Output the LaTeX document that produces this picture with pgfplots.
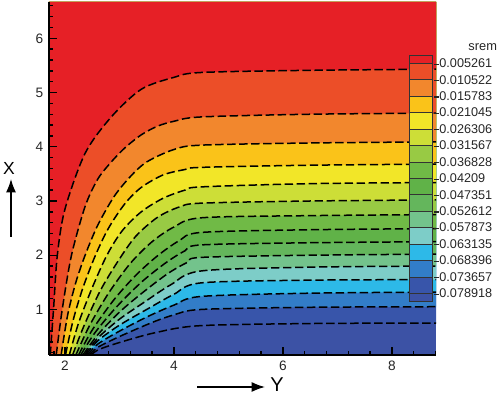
\documentclass[border=0pt]{standalone}
\usepackage{pgfplots}
\pgfplotsset{compat=1.18}
\usepackage{pgfplotstable}
\usepackage{fontspec}
\setmainfont{Liberation Sans}
\usetikzlibrary{arrows.meta}

\definecolor{cb0}{RGB}{230,32,38}
\definecolor{cb1}{RGB}{236,78,40}
\definecolor{cb2}{RGB}{242,135,45}
\definecolor{cb3}{RGB}{250,195,25}
\definecolor{cb4}{RGB}{242,230,40}
\definecolor{cb5}{RGB}{205,222,55}
\definecolor{cb6}{RGB}{152,202,68}
\definecolor{cb7}{RGB}{112,186,70}
\definecolor{cb8}{RGB}{96,178,72}
\definecolor{cb9}{RGB}{100,182,92}
\definecolor{cb10}{RGB}{115,195,140}
\definecolor{cb11}{RGB}{125,205,200}
\definecolor{cb12}{RGB}{45,185,232}
\definecolor{cb13}{RGB}{50,125,200}
\definecolor{cb14}{RGB}{56,85,170}
\definecolor{cb15}{RGB}{60,82,165}

\pgfplotstableread{
a b
1.73 0.16
1.79 1.0
1.86 2.0
2.0 2.85
2.37 3.88
2.85 4.55
3.4 5.06
4.0 5.28
4.5 5.37
6.5 5.41
8.81 5.43
}\LA
\pgfplotstableread{
a b
1.84 0.16
1.95 1.0
2.12 2.0
2.37 2.9
2.6 3.4
2.85 3.72
3.1 3.98
3.4 4.22
3.7 4.38
4.0 4.47
4.5 4.55
6.5 4.60
8.81 4.62
}\LB
\pgfplotstableread{
a b
1.93 0.16
2.05 0.9
2.2 1.5
2.37 2.0
2.6 2.55
2.9 3.08
3.2 3.45
3.5 3.72
4.0 3.95
4.5 4.03
6.5 4.07
8.81 4.09
}\LC
\pgfplotstableread{
a b
2.01 0.16
2.15 0.8
2.33 1.4
2.56 2.0
2.8 2.5
3.1 2.95
3.4 3.25
3.8 3.48
4.2 3.58
4.5 3.62
6.5 3.66
8.81 3.68
}\LD
\pgfplotstableread{
a b
2.08 0.16
2.25 0.75
2.5 1.4
2.77 2.0
3.05 2.45
3.4 2.8
3.8 3.05
4.2 3.2
4.5 3.26
6.5 3.32
8.81 3.34
}\LE
\pgfplotstableread{
a b
2.14 0.16
2.35 0.7
2.65 1.35
2.98 1.9
3.3 2.35
3.7 2.7
4.1 2.89
4.5 2.96
6.5 3.0
8.81 3.02
}\LF
\pgfplotstableread{
a b
2.2 0.16
2.45 0.7
2.8 1.3
3.2 1.85
3.6 2.25
4.0 2.52
4.5 2.69
6.5 2.73
8.81 2.75
}\LG
\pgfplotstableread{
a b
2.25 0.16
2.5 0.62
2.9 1.18
3.3 1.63
3.7 1.99
4.1 2.27
4.5 2.42
6.5 2.47
8.81 2.49
}\LH
\pgfplotstableread{
a b
2.29 0.16
2.55 0.57
2.95 1.05
3.4 1.5
3.85 1.86
4.2 2.08
4.5 2.19
6.5 2.23
8.81 2.25
}\LI
\pgfplotstableread{
a b
2.33 0.16
2.6 0.53
3.0 0.95
3.45 1.33
3.9 1.67
4.25 1.87
4.5 1.96
6.5 2.0
8.81 2.02
}\LJ
\pgfplotstableread{
a b
2.36 0.16
2.6 0.47
3.0 0.82
3.45 1.13
3.95 1.46
4.5 1.71
6.5 1.78
8.81 1.80
}\LK
\pgfplotstableread{
a b
2.39 0.16
2.6 0.42
3.0 0.71
3.5 1.0
4.0 1.28
4.5 1.49
6.5 1.54
8.81 1.55
}\LL
\pgfplotstableread{
a b
2.42 0.16
2.6 0.36
3.0 0.6
3.5 0.86
4.0 1.08
4.5 1.24
6.5 1.30
8.81 1.32
}\LM
\pgfplotstableread{
a b
2.45 0.16
2.6 0.3
3.0 0.5
3.6 0.76
4.0 0.9
4.5 1.0
6.5 1.04
8.81 1.05
}\LN
\pgfplotstableread{
a b
2.48 0.16
2.62 0.26
3.0 0.39
3.65 0.57
4.47 0.70
6.5 0.74
8.81 0.75
}\LO

\pgfplotsset{
  band/.style={fill=#1, draw=none, smooth, tension=0.5},
  cline/.style={black, line width=0.9pt, dash pattern=on 5pt off 2.2pt, smooth, tension=0.5},
}
\newcommand{\mns}{\raisebox{0.24em}{\rule{0.36em}{0.09em}}\hspace{0.04em}}

\begin{document}
\begin{tikzpicture}
\useasboundingbox (-29.4pt,-24.6pt) rectangle (270.6pt,213pt);
\begin{axis}[
  at={(0,0)}, anchor=south west,
  scale only axis, width=232.2pt, height=211.8pt,
  xmin=1.707, xmax=8.81, ymin=0.16, ymax=6.67,
  axis x line*=bottom, axis y line*=left,
  axis background/.style={fill=cb15},
  xtick={2,4,6,8}, ytick={1,2,3,4,5,6},
  minor xtick={1.8,2.4,2.8,3.2,3.6,4.4,4.8,5.2,5.6,6.4,6.8,7.2,7.6,8.4,8.8},
  minor ytick={0.2,0.4,0.6,0.8,1.2,1.4,1.6,1.8,2.2,2.4,2.6,2.8,3.2,3.4,3.6,3.8,4.2,4.4,4.6,4.8,5.2,5.4,5.6,5.8,6.2,6.4,6.6},
  tick align=inside,
  major tick length=5pt, minor tick length=2.6pt,
  every tick/.style={black, line width=0.8pt},
  axis line style={black, line width=1pt},
  ticklabel style={font=\fontsize{8.2}{10}\selectfont, text=black!85},
  /pgf/number format/assume math mode=true,
  axis on top,
]
\addplot[band=cb14] table {\LO} -- (rel axis cs:1,1) -- (rel axis cs:0,1) -- (rel axis cs:0,0) -- cycle;
\addplot[band=cb13] table {\LN} -- (rel axis cs:1,1) -- (rel axis cs:0,1) -- (rel axis cs:0,0) -- cycle;
\addplot[band=cb12] table {\LM} -- (rel axis cs:1,1) -- (rel axis cs:0,1) -- (rel axis cs:0,0) -- cycle;
\addplot[band=cb11] table {\LL} -- (rel axis cs:1,1) -- (rel axis cs:0,1) -- (rel axis cs:0,0) -- cycle;
\addplot[band=cb10] table {\LK} -- (rel axis cs:1,1) -- (rel axis cs:0,1) -- (rel axis cs:0,0) -- cycle;
\addplot[band=cb9] table {\LJ} -- (rel axis cs:1,1) -- (rel axis cs:0,1) -- (rel axis cs:0,0) -- cycle;
\addplot[band=cb8] table {\LI} -- (rel axis cs:1,1) -- (rel axis cs:0,1) -- (rel axis cs:0,0) -- cycle;
\addplot[band=cb7] table {\LH} -- (rel axis cs:1,1) -- (rel axis cs:0,1) -- (rel axis cs:0,0) -- cycle;
\addplot[band=cb6] table {\LG} -- (rel axis cs:1,1) -- (rel axis cs:0,1) -- (rel axis cs:0,0) -- cycle;
\addplot[band=cb5] table {\LF} -- (rel axis cs:1,1) -- (rel axis cs:0,1) -- (rel axis cs:0,0) -- cycle;
\addplot[band=cb4] table {\LE} -- (rel axis cs:1,1) -- (rel axis cs:0,1) -- (rel axis cs:0,0) -- cycle;
\addplot[band=cb3] table {\LD} -- (rel axis cs:1,1) -- (rel axis cs:0,1) -- (rel axis cs:0,0) -- cycle;
\addplot[band=cb2] table {\LC} -- (rel axis cs:1,1) -- (rel axis cs:0,1) -- (rel axis cs:0,0) -- cycle;
\addplot[band=cb1] table {\LB} -- (rel axis cs:1,1) -- (rel axis cs:0,1) -- (rel axis cs:0,0) -- cycle;
\addplot[band=cb0] table {\LA} -- (rel axis cs:1,1) -- (rel axis cs:0,1) -- (rel axis cs:0,0) -- cycle;
\addplot[cline] table {\LA};
\addplot[cline] table {\LB};
\addplot[cline] table {\LC};
\addplot[cline] table {\LD};
\addplot[cline] table {\LE};
\addplot[cline] table {\LF};
\addplot[cline] table {\LG};
\addplot[cline] table {\LH};
\addplot[cline] table {\LI};
\addplot[cline] table {\LJ};
\addplot[cline] table {\LK};
\addplot[cline] table {\LL};
\addplot[cline] table {\LM};
\addplot[cline] table {\LN};
\addplot[cline] table {\LO};
\end{axis}
% colour legend
\fill[cb0] (216pt,175pt) rectangle (229.8pt,179.93pt);
\foreach \k in {1,...,14}{
  \pgfmathsetmacro{\ytop}{175-9.857*(\k-1)}
  \pgfmathsetmacro{\ybot}{175-9.857*\k}
  \fill[cb\k] (216pt,\ybot pt) rectangle (229.8pt,\ytop pt);
}
\fill[cb15] (216pt,32.07pt) rectangle (229.8pt,37pt);
\foreach \k in {1,...,15}{
  \pgfmathsetmacro{\yb}{175-9.857*(\k-1)}
  \draw[black!80, line width=0.4pt] (216pt,\yb pt) -- (229.8pt,\yb pt);
}
\draw[black!80, line width=0.5pt] (216pt,32.07pt) rectangle (229.8pt,179.93pt);
\foreach \k/\lab in {1/0.005261,2/0.010522,3/0.015783,4/0.021045,5/0.026306,6/0.031567,7/0.036828,8/0.04209,9/0.047351,10/0.052612,11/0.057873,12/0.063135,13/0.068396,14/0.073657,15/0.078918}{
  \pgfmathsetmacro{\yb}{175-9.857*(\k-1)}
  \node[anchor=west, inner sep=0pt, font=\fontsize{7.6}{9}\selectfont, text=black!85] at (231pt,\yb pt) {\mns\lab};
}
\node[anchor=east, inner sep=0pt, font=\fontsize{7.7}{9}\selectfont, text=black!85] at (269pt,184.8pt) {srem};
% axis titles with arrows
\node[font=\fontsize{10.5}{12}\selectfont] at (-24pt,112pt) {X};
\draw[-{Latex[length=8pt,width=6pt]}, line width=0.9pt] (-22.8pt,70.8pt) -- (-22.8pt,105.6pt);
\draw[-{Latex[length=8pt,width=6pt]}, line width=0.9pt] (88.8pt,-19.2pt) -- (129.6pt,-19.2pt);
\node[font=\fontsize{12}{14}\selectfont] at (136.8pt,-18pt) {Y};
\end{tikzpicture}
\end{document}
